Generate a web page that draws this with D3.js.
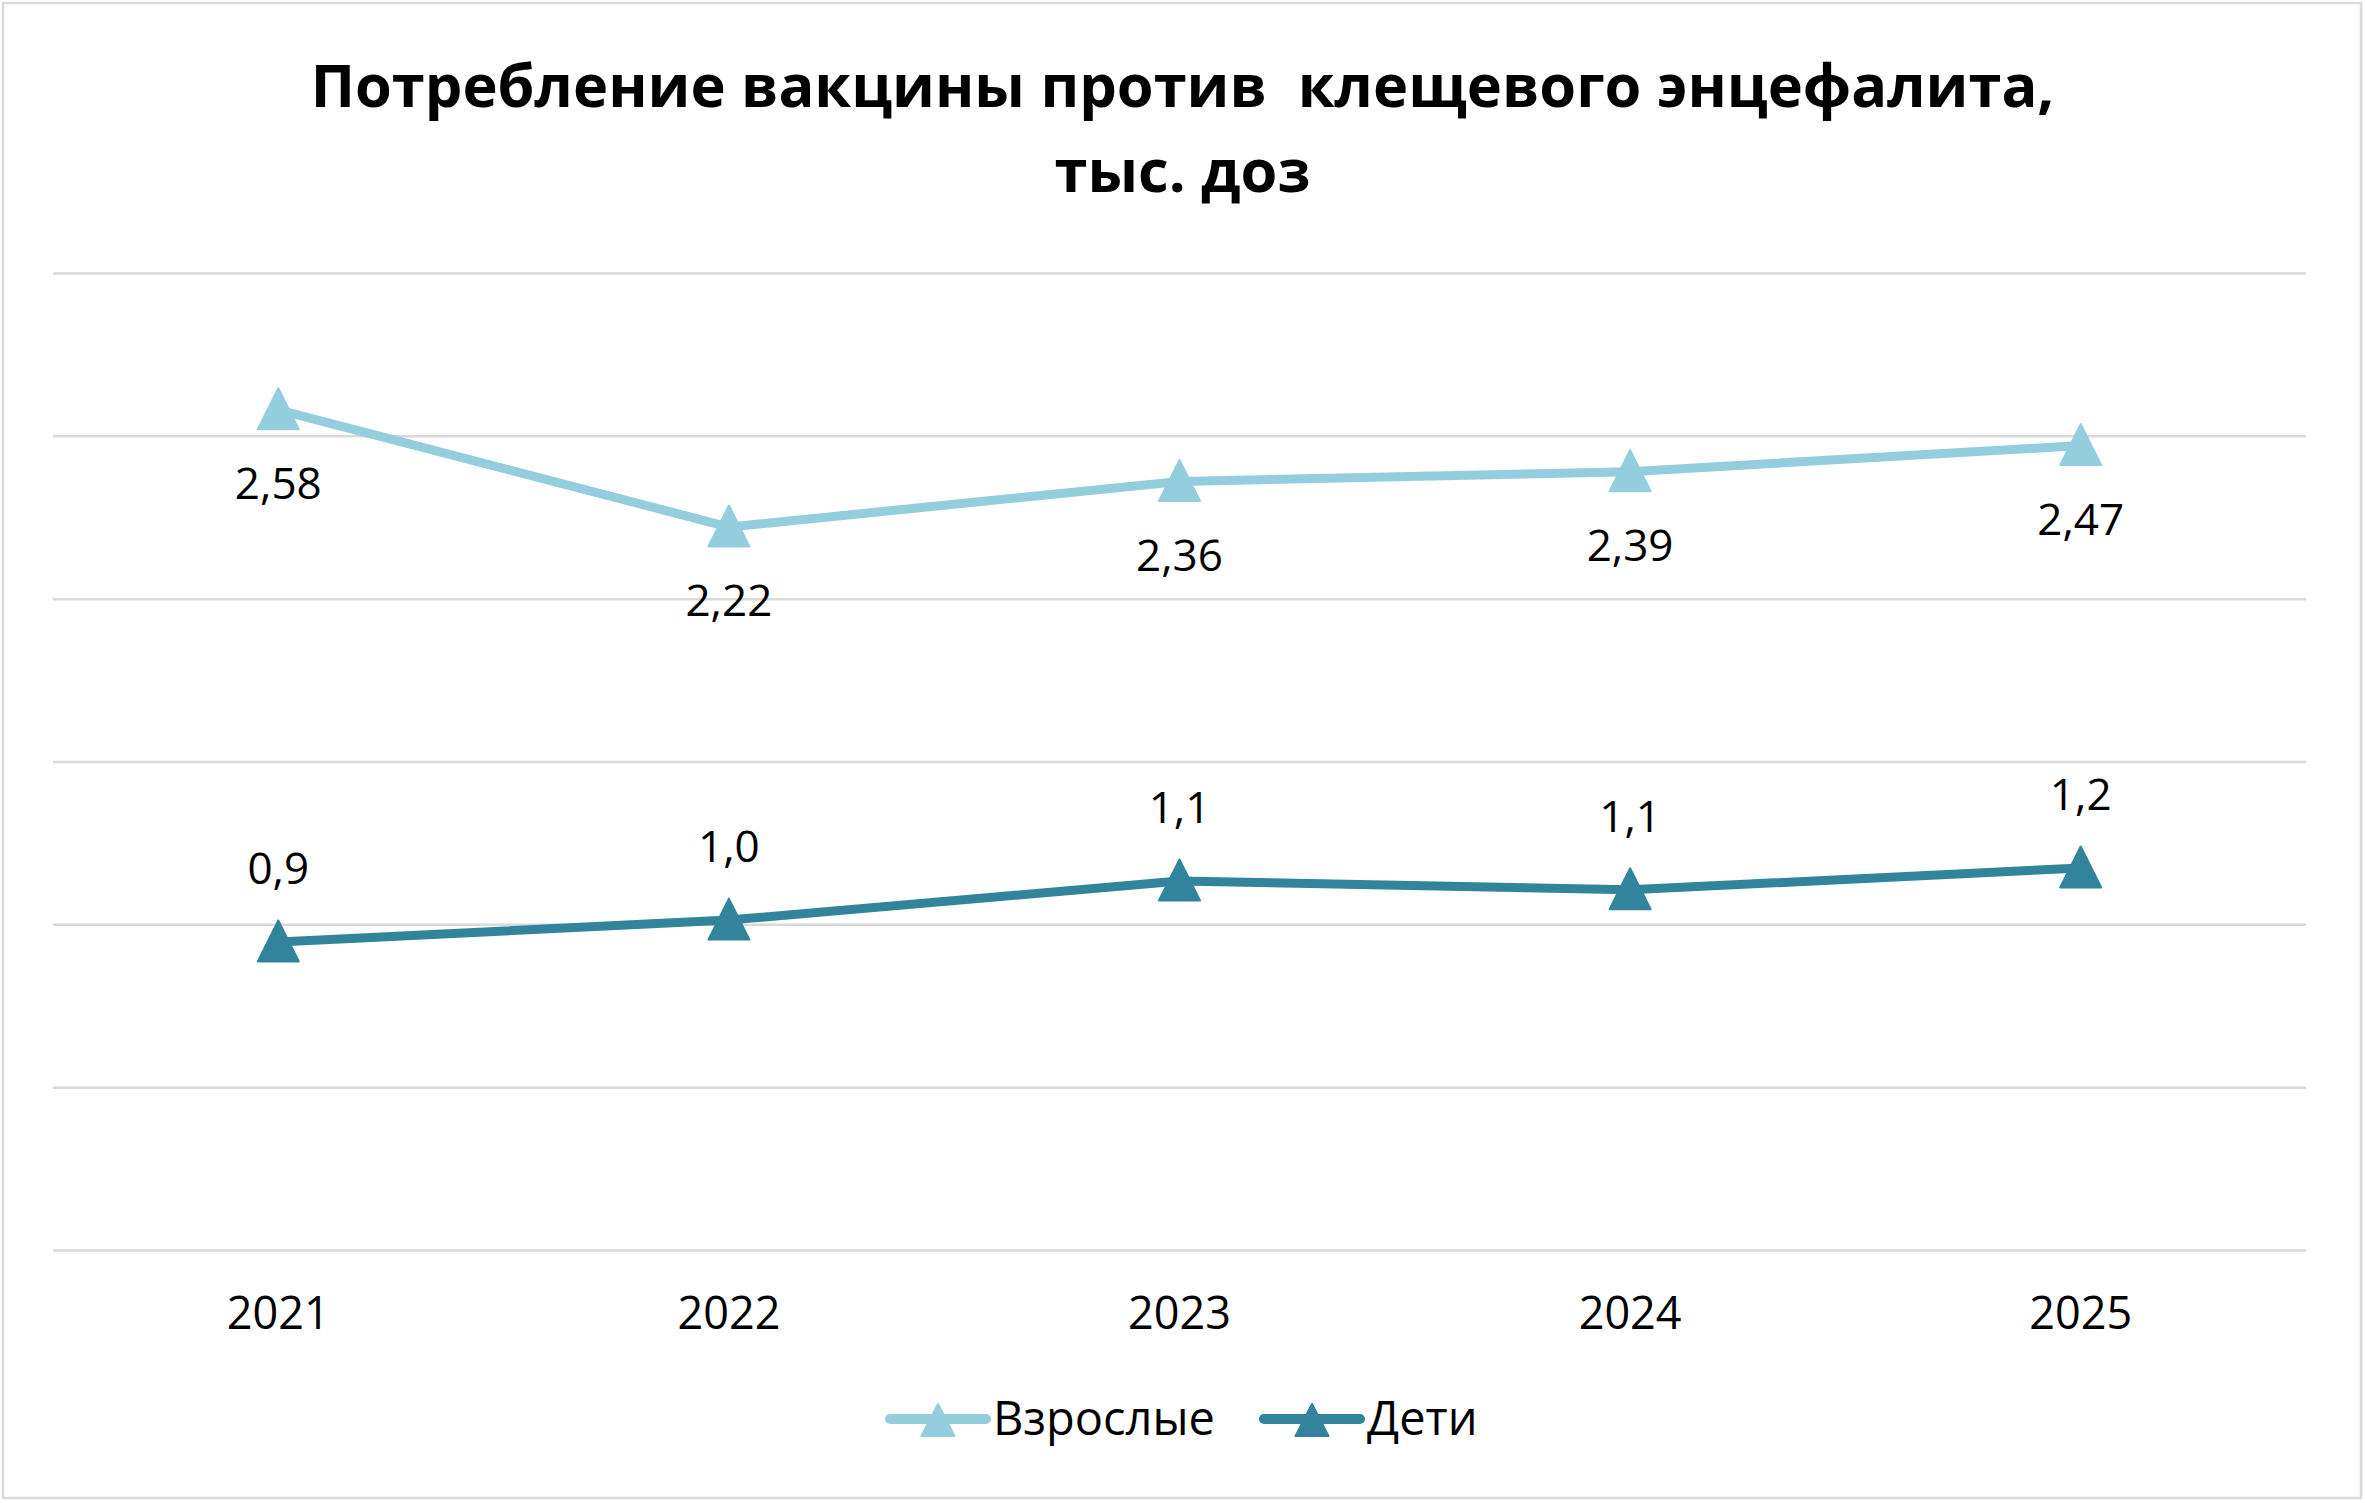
<!DOCTYPE html>
<html>
<head>
<meta charset="utf-8">
<script src="https://cdn.jsdelivr.net/npm/d3@7"></script>
<style>
  body { margin: 0; background: #fff; }
  svg { display: block; font-family: "Open Sans", "Noto Sans", sans-serif; }
</style>
</head>
<body>
<div id="chart"></div>
<script>
const years = ['2021', '2022', '2023', '2024', '2025'];
const adults = [2.58, 2.22, 2.36, 2.39, 2.47];
const children = [0.946, 1.013, 1.133, 1.106, 1.173];
const seriesNames = ['Взрослые', 'Дети'];
const titleLines = ['Потребление вакцины против  клещевого энцефалита,', 'тыс. доз'];
const yTicks = [0, 0.5, 1, 1.5, 2, 2.5, 3];

const W = 2365, H = 1503;
const margin = {top: 273, right: 59, bottom: 253, left: 53};
const width = W - margin.left - margin.right;
const height = H - margin.top - margin.bottom;

const series = [
  {name: seriesNames[0], values: adults, color: '#94cddd', fmt: d3.format('.2f'), dy: 74},
  {name: seriesNames[1], values: children, color: '#31849b', fmt: d3.format('.1f'), dy: -73}
];

const svg = d3.select('#chart')
  .append('svg')
  .attr('width', W)
  .attr('height', H);

svg.append('rect')
  .attr('x', 3).attr('y', 3)
  .attr('width', W - 7).attr('height', H - 8)
  .attr('fill', '#fff')
  .attr('stroke', '#d9d9d9')
  .attr('stroke-width', 2.5);

svg.append('text')
  .attr('x', W / 2)
  .attr('text-anchor', 'middle')
  .attr('font-weight', 700)
  .attr('font-size', 59.5)
  .style('white-space', 'pre')
  .selectAll('tspan')
  .data(titleLines)
  .join('tspan')
  .attr('x', W / 2)
  .attr('y', (d, i) => 107 + i * 85)
  .text(d => d);

const g = svg.append('g')
  .attr('transform', `translate(${margin.left}, ${margin.top})`);

const x = d3.scaleBand()
  .domain(years)
  .range([0, width]);
const y = d3.scaleLinear()
  .domain([0, 3])
  .range([height, 0]);

const yAxis = g => g
  .call(d3.axisLeft(y).tickValues(yTicks).tickSize(-width).tickFormat(''))
  .call(g => g.select('.domain').remove())
  .call(g => g.selectAll('.tick line').attr('stroke', '#d9d9d9').attr('stroke-width', 2.5));
const xAxis = g => g
  .attr('transform', `translate(0, ${height})`)
  .call(d3.axisBottom(x).tickSize(0))
  .call(g => g.select('.domain').remove())
  .call(g => g.selectAll('text')
    .attr('font-size', 45)
    .attr('font-family', '"Open Sans", sans-serif')
    .attr('fill', '#000')
    .attr('dy', 0)
    .attr('y', 79));

g.append('g').call(yAxis);
g.append('g').call(xAxis);

const tri = (w, h) => `M0,${-h / 2}L${w / 2},${h / 2}L${-w / 2},${h / 2}Z`;

const line = d3.line()
  .x((d, i) => x(years[i]) + x.bandwidth() / 2)
  .y(d => y(d));

series.forEach(s => {
  g.append('path')
    .datum(s.values)
    .attr('fill', 'none')
    .attr('stroke', s.color)
    .attr('stroke-width', 9)
    .attr('stroke-linejoin', 'round')
    .attr('d', line);

  g.selectAll(null)
    .data(s.values)
    .join('path')
    .attr('transform', (d, i) => `translate(${x(years[i]) + x.bandwidth() / 2}, ${y(d) - 1})`)
    .attr('d', tri(41, 41))
    .attr('fill', s.color)
    .attr('stroke', s.color)
    .attr('stroke-width', 2)
    .attr('stroke-linejoin', 'round');

  g.selectAll(null)
    .data(s.values)
    .join('text')
    .attr('x', (d, i) => x(years[i]) + x.bandwidth() / 2)
    .attr('y', d => y(d) + s.dy)
    .attr('dy', '0.35em')
    .attr('text-anchor', 'middle')
    .attr('font-size', 44)
    .attr('fill', '#000')
    .text(d => s.fmt(d).replace('.', ','));
});

// legend
const legendX = [890, 1264];
const legend = svg.append('g')
  .selectAll('g')
  .data(series)
  .join('g')
  .attr('transform', (d, i) => `translate(${legendX[i]}, 1419)`);
legend.append('line')
  .attr('x1', 0).attr('x2', 96)
  .attr('stroke', d => d.color)
  .attr('stroke-width', 10)
  .attr('stroke-linecap', 'round');
legend.append('path')
  .attr('transform', 'translate(48, 1)')
  .attr('d', tri(33, 32))
  .attr('fill', d => d.color)
  .attr('stroke', d => d.color)
  .attr('stroke-width', 2)
  .attr('stroke-linejoin', 'round');
legend.append('text')
  .attr('x', 103)
  .attr('dy', '0.35em')
  .attr('font-size', 47)
  .attr('fill', '#000')
  .text(d => d.name);
</script>
</body>
</html>
